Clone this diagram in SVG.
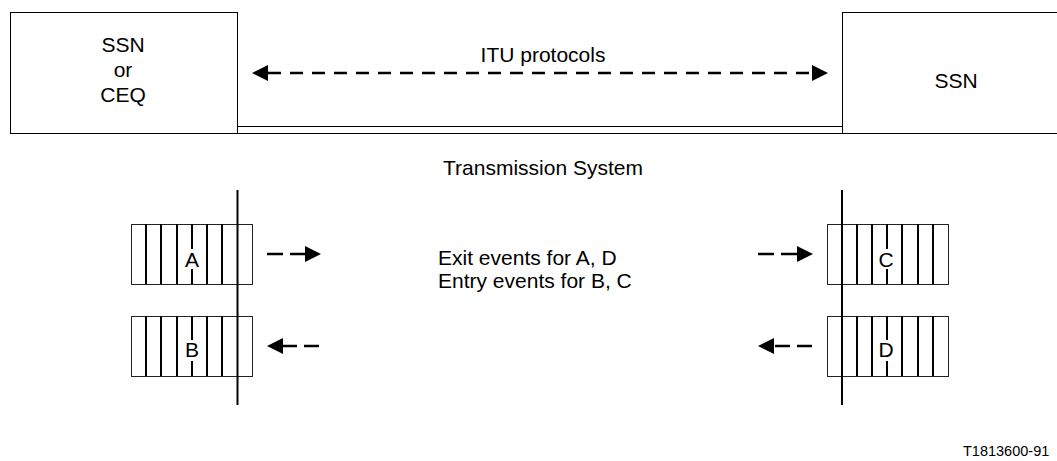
<svg xmlns="http://www.w3.org/2000/svg" width="1057" height="461" viewBox="0 0 1057 461">
<defs>
<marker id="ah" viewBox="0 -8 16 16" markerWidth="16" markerHeight="16" refX="0" refY="0" markerUnits="userSpaceOnUse" orient="auto-start-reverse">
<path d="M0,-8 L16,0 L0,8 z" fill="#000"/>
</marker>
<style>
.box{fill:#fff;stroke:#000;stroke-width:1}
.t{font-family:"Liberation Sans",Arial,sans-serif;font-size:21px;fill:#000}
.c{text-anchor:middle}
.dash{stroke:#000;stroke-width:2.5;fill:none}
.sys{stroke:#000;stroke-width:2;fill:none}
.stripe{stroke:#000;stroke-width:2}
.frame{fill:none;stroke:#222;stroke-width:1}
</style>
</defs>
<rect width="1057" height="461" fill="#fff"/>

<g id="ssn-left">
<rect class="box" x="10.5" y="12.5" width="227" height="121"/>
<text class="t c" x="123" y="52">SSN</text>
<text class="t c" x="123" y="77">or</text>
<text class="t c" x="123" y="102">CEQ</text>
</g>

<g id="ssn-right">
<rect class="box" x="842.5" y="12.5" width="230" height="121"/>
<text class="t c" x="956" y="88">SSN</text>
</g>

<g id="transmission">
<line x1="237.5" y1="126.5" x2="842.5" y2="126.5" stroke="#000" stroke-width="1"/>
<line x1="10" y1="133.5" x2="1057" y2="133.5" stroke="#000" stroke-width="1"/>
<text class="t c" x="543" y="175">Transmission System</text>
</g>

<g id="queue-A">
<rect class="frame" x="131.5" y="224.5" width="121" height="60"/>
<path class="stripe" d="M146,224V284M161,224V284M177,224V284M192,224V249M192,269V284M207,224V284M222,224V284"/>
<text class="t c" x="192" y="267">A</text>
</g>
<g id="queue-B">
<rect class="frame" x="131.5" y="316.5" width="121" height="60"/>
<path class="stripe" d="M146,316V376M161,316V376M177,316V376M192,316V340M192,361V376M207,316V376M222,316V376"/>
<text class="t c" x="192" y="357">B</text>
</g>
<g id="queue-C">
<rect class="frame" x="827.5" y="224.5" width="121" height="60"/>
<path class="stripe" d="M857,224V284M872,224V284M887,224V249M887,269V284M902,224V284M918,224V284M933,224V284"/>
<text class="t c" x="886" y="267">C</text>
</g>
<g id="queue-D">
<rect class="frame" x="827.5" y="316.5" width="121" height="60"/>
<path class="stripe" d="M857,316V376M872,316V376M887,316V340M887,361V376M902,316V376M918,316V376M933,316V376"/>
<text class="t c" x="886" y="357">D</text>
</g>

<g id="interface-left">
<line class="sys" x1="237.5" y1="190" x2="237.5" y2="405"/>
</g>
<g id="interface-right">
<line class="sys" x1="842" y1="190" x2="842" y2="405"/>
</g>

<g id="connectors">
<line class="dash" x1="268" y1="73" x2="812" y2="73" stroke-dasharray="13 9" marker-start="url(#ah)" marker-end="url(#ah)"/>
<line class="dash" x1="267" y1="254" x2="305" y2="254" stroke-dasharray="16 7" marker-end="url(#ah)"/>
<line class="dash" x1="319" y1="346" x2="283" y2="346" stroke-dasharray="15 7" marker-end="url(#ah)"/>
<line class="dash" x1="758" y1="254" x2="797" y2="254" stroke-dasharray="16 7" marker-end="url(#ah)"/>
<line class="dash" x1="812" y1="346" x2="774" y2="346" stroke-dasharray="15 7" marker-end="url(#ah)"/>
</g>

<g id="labels">
<text class="t c" x="543" y="62">ITU protocols</text>
<text class="t" x="438" y="265">Exit events for A, D</text>
<text class="t" x="438" y="288">Entry events for B, C</text>
<text class="t" x="963" y="456" style="font-size:14.5px">T1813600-91</text>
</g>
</svg>
